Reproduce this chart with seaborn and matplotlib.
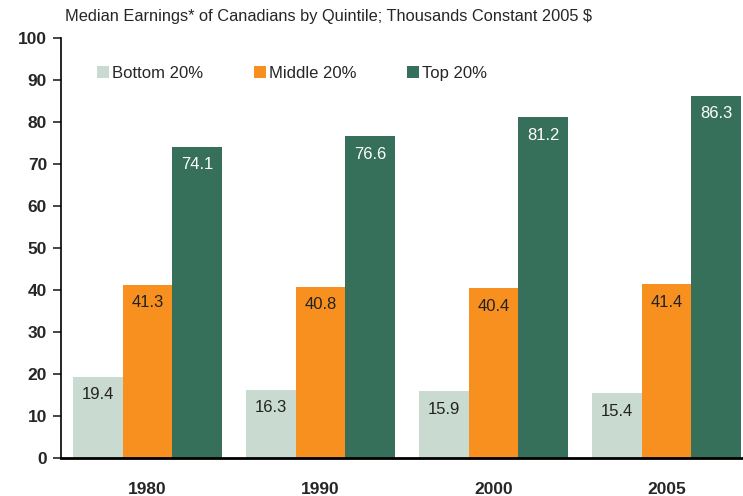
import matplotlib
matplotlib.use("Agg")
import matplotlib.pyplot as plt
import seaborn as sns
import pandas as pd

years = ["1980", "1990", "2000", "2005"]
groups = ["Bottom 20%", "Middle 20%", "Top 20%"]
bottom = [19.4, 16.3, 15.9, 15.4]
middle = [41.3, 40.8, 40.4, 41.4]
top = [74.1, 76.6, 81.2, 86.3]
colors = ["#C9DAD0", "#F7901E", "#36705A"]
label_colors = ["#222222", "#222222", "#FFFFFF"]

rows = []
for g, vals in zip(groups, [bottom, middle, top]):
    for y, v in zip(years, vals):
        rows.append({"Year": y, "Group": g, "Value": v})
df = pd.DataFrame(rows)

sns.set_style("white")
plt.rcParams["font.family"] = ["Liberation Sans", "DejaVu Sans"]

fig = plt.figure(figsize=(7.43, 4.96), dpi=100)
ax = fig.add_axes([61/743, 1-458/496, 692/743, 420/496])
sns.barplot(data=df, x="Year", y="Value", hue="Group", palette=colors,
            width=0.866, saturation=1, ax=ax, legend=False, gap=0, linewidth=0)

for cont, lc in zip(ax.containers, label_colors):
    for bar in cont:
        bar.set_linewidth(0)
        h = bar.get_height()
        ax.text(bar.get_x() + bar.get_width()/2, h - 4.3, f"{h:.1f}",
                ha="center", va="center", fontsize=12, color=lc)

ax.set_xlim(-0.5, 3.5)
ax.set_ylim(0, 100)
ax.set_yticks(range(0, 101, 10))
ax.set_xlabel("")
ax.set_ylabel("")
for s in ["top", "right"]:
    ax.spines[s].set_visible(False)
ax.spines["left"].set_linewidth(1.2)
ax.spines["bottom"].set_linewidth(2)
ax.spines["left"].set_color("black")
ax.spines["bottom"].set_color("black")
ax.tick_params(axis="y", which="both", direction="out", length=6, width=1.2,
               left=True, labelsize=12.5, pad=4)
ax.tick_params(axis="x", bottom=False, labelsize=12.5, pad=14)
for t in ax.get_yticklabels() + ax.get_xticklabels():
    t.set_fontweight("bold")

from matplotlib.patches import Patch
handles = [Patch(facecolor=c, edgecolor="none") for c in colors]
leg = ax.legend(handles, groups, loc="upper left", bbox_to_anchor=(21/692, 0.97),
                ncol=3, frameon=False, fontsize=12, handlelength=0.7, handleheight=0.7,
                handletextpad=0.2, columnspacing=3.05)

fig.text(65/743, 1-17/496, "Median Earnings* of Canadians by Quintile; Thousands Constant 2005 $",
         ha="left", va="center", fontsize=11.8)

fig.savefig("out.png", dpi=100)
